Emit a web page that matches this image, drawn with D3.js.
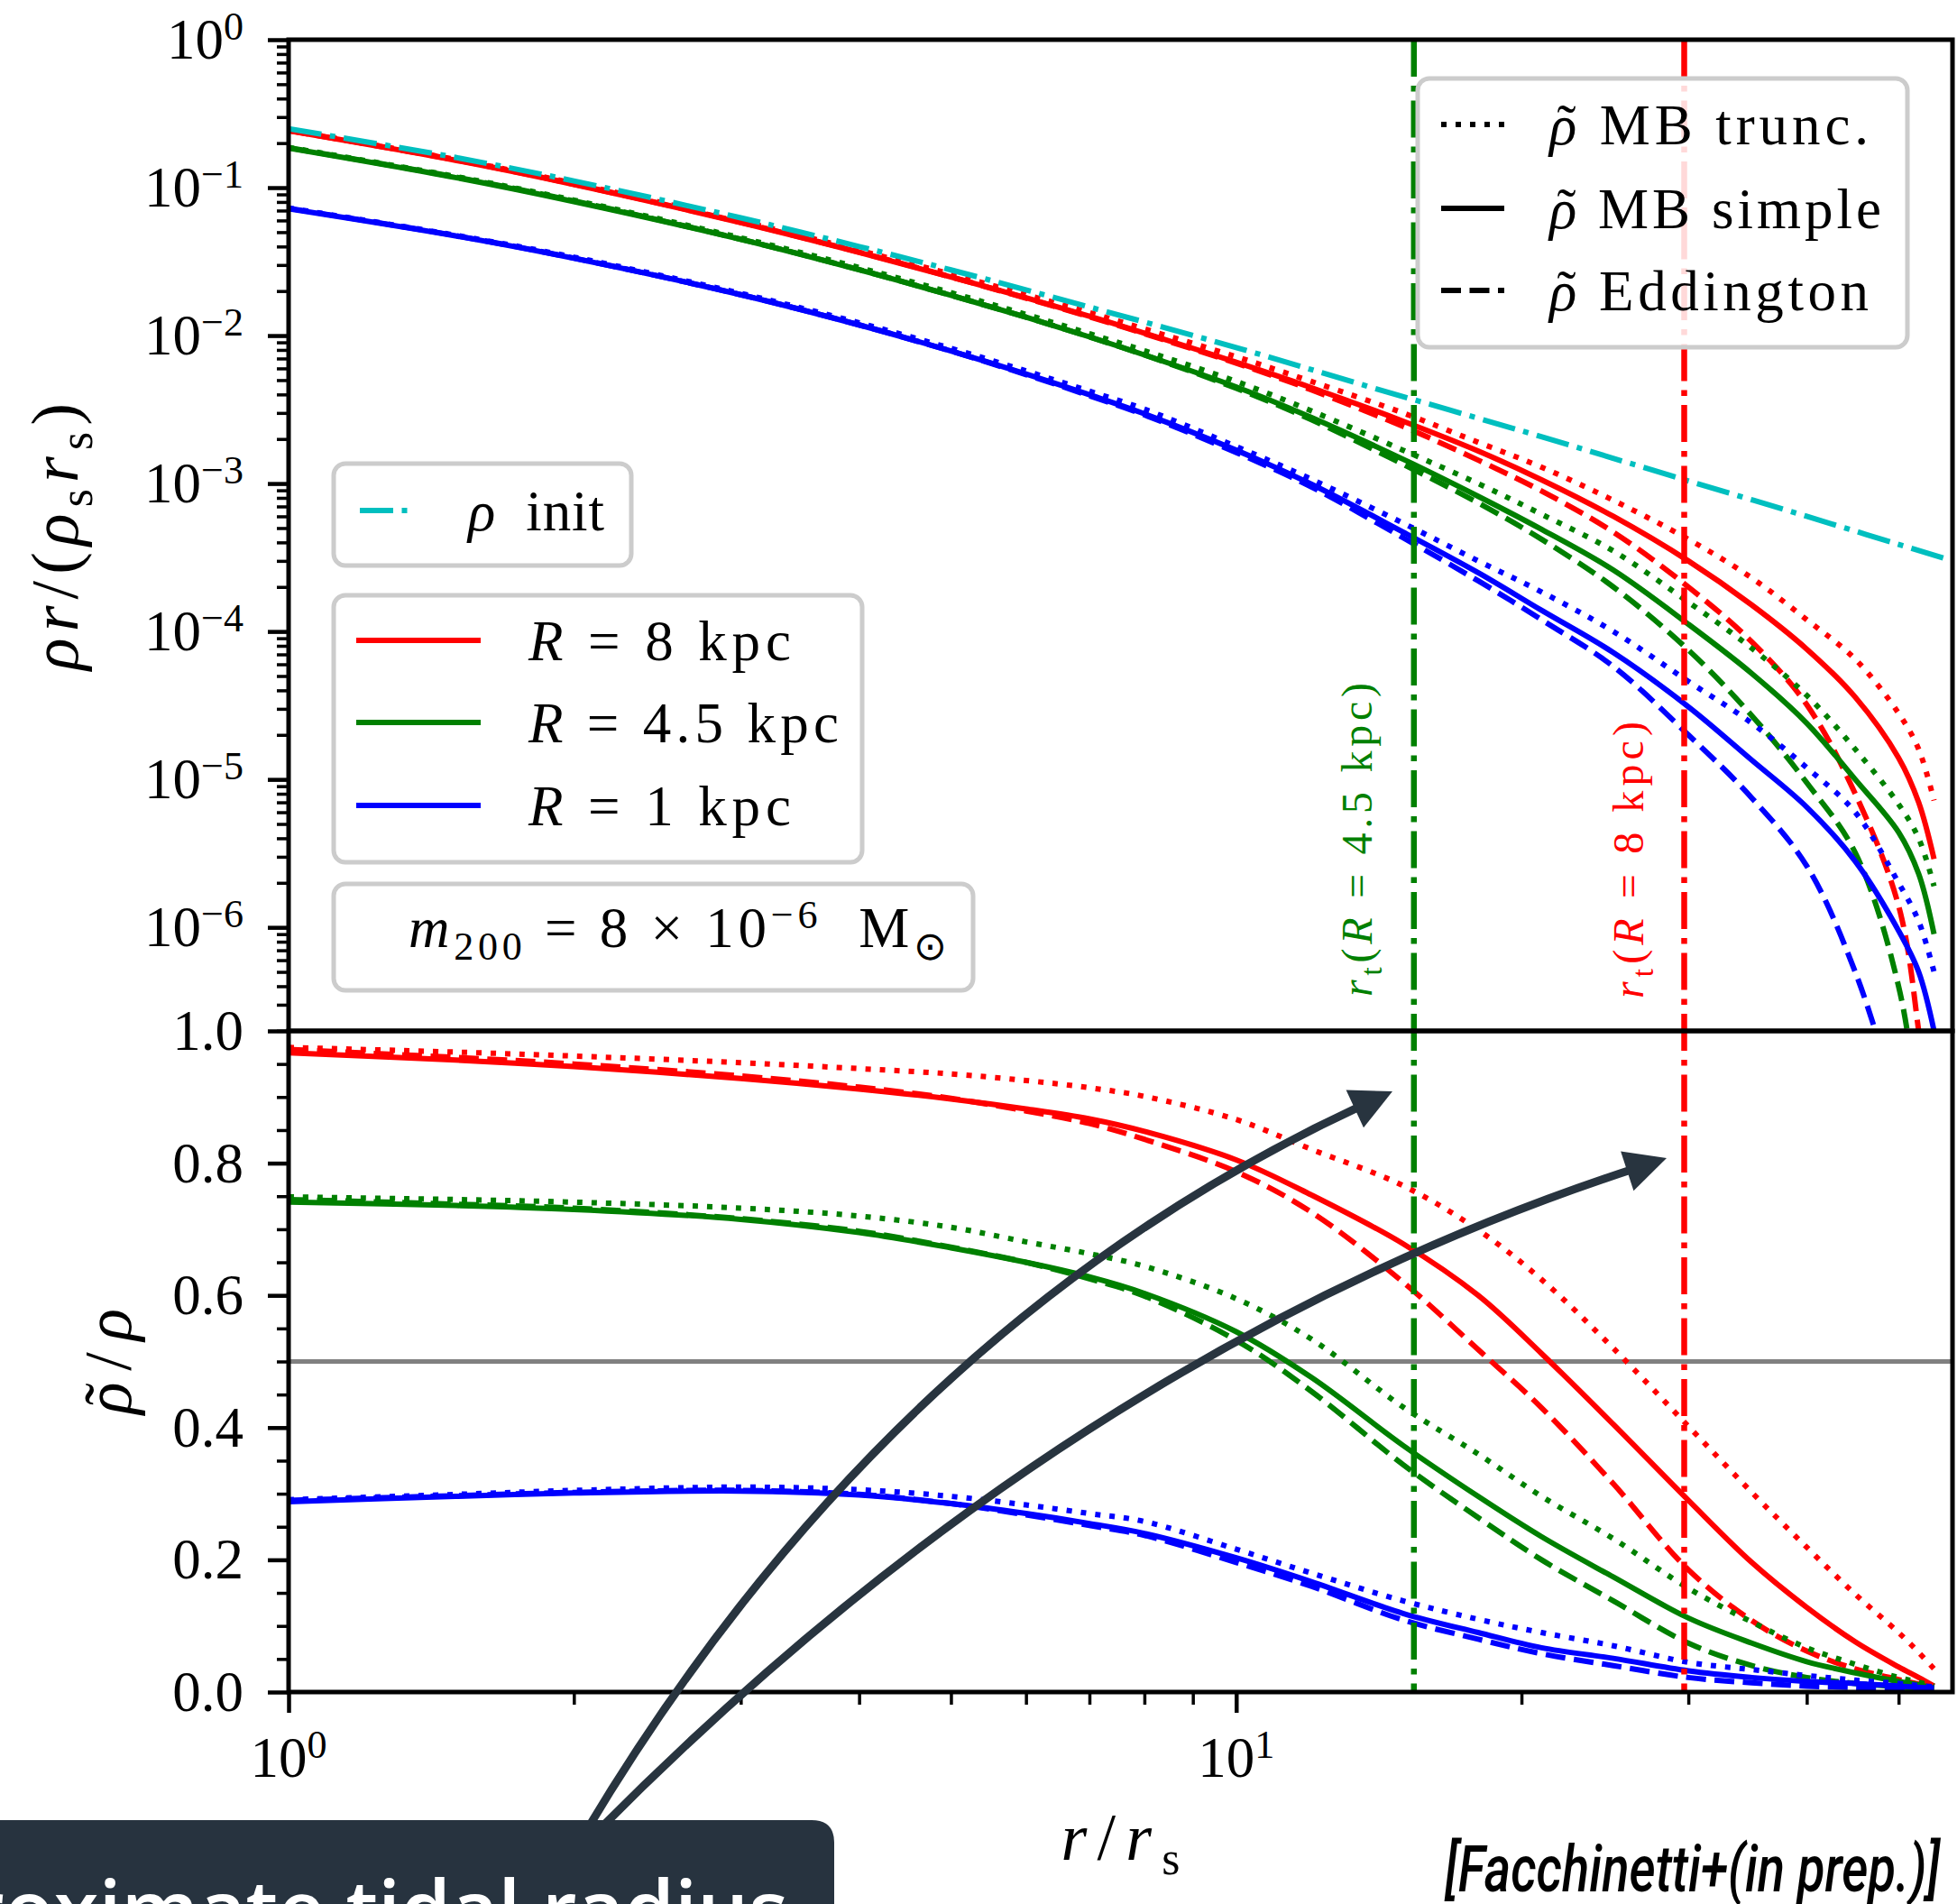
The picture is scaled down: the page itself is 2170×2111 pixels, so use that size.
<!DOCTYPE html>
<html>
<head>
<meta charset="utf-8">
<script src="https://cdn.jsdelivr.net/npm/d3@7"></script>
<style>
  body { margin: 0; background: #fff; overflow: hidden; }
  svg { display: block; }
  text { font-family: "Liberation Serif", "Times New Roman", serif; }
</style>
</head>
<body>
<div id="chart"></div>
<script>
// ---- data ----
var radii = [1, 1.5, 2, 3, 4, 5, 6, 7, 8, 10, 12, 15, 18, 21, 25, 30, 35, 40, 45, 50, 52.5, 54.5];

var initRadii = [1, 1.5, 2, 3, 4, 5, 7, 10, 14, 20, 28, 40, 57];
var initDensity = [0.25, 0.16, 0.111, 0.0625, 0.04, 0.0278, 0.0156, 0.0083, 0.0044, 0.00227, 0.00119, 0.0006, 0.0003];

// top panel: rho r / (rho_s r_s)
var densRedTrunc  = [0.244, 0.155, 0.107, 0.0595, 0.0377, 0.026, 0.0189, 0.0143, 0.0111, 0.0072, 0.0049, 0.003, 0.0019, 0.00129, 0.00077, 0.00042, 0.00023, 0.00012, 0.000065, 0.000028, 0.000016, 0.0000072];
var densRedSimple = [0.242, 0.153, 0.105, 0.058, 0.0365, 0.0249, 0.018, 0.0135, 0.0104, 0.0066, 0.00445, 0.00264, 0.00166, 0.00106, 0.0006, 0.0003, 0.000151, 0.000076, 0.000036, 0.000014, 0.000007, 0.0000029];
var densRedEdd    = [0.243, 0.154, 0.1055, 0.0583, 0.0366, 0.0249, 0.0179, 0.0134, 0.0103, 0.0065, 0.0043, 0.00243, 0.00144, 0.00089, 0.00047, 0.0002, 0.000085, 0.000032, 0.000008, 0.0000014, 0.0000002, 0.00000002];
var densGreenTrunc  = [0.187, 0.119, 0.0823, 0.0458, 0.0288, 0.0195, 0.0139, 0.0103, 0.0079, 0.0049, 0.0031, 0.00168, 0.001, 0.00062, 0.00035, 0.000158, 0.000077, 0.000037, 0.000016, 0.0000068, 0.000004, 0.0000019];
var densGreenSimple = [0.185, 0.117, 0.0805, 0.0447, 0.0278, 0.0187, 0.0133, 0.0098, 0.0074, 0.0045, 0.0028, 0.00146, 0.00082, 0.00049, 0.00026, 0.000112, 0.000052, 0.000024, 0.00001, 0.0000044, 0.0000023, 0.0000009];
var densGreenEdd    = [0.186, 0.118, 0.0813, 0.0448, 0.0279, 0.0187, 0.0133, 0.0098, 0.0074, 0.0044, 0.0027, 0.00135, 0.00074, 0.00042, 0.0002, 0.000075, 0.000027, 0.0000095, 0.0000032, 0.0000004, 0.00000005, 0.000000005];
var densBlueTrunc  = [0.0728, 0.0477, 0.0339, 0.0193, 0.0122, 0.0082, 0.00577, 0.00421, 0.00318, 0.00178, 0.00107, 0.00054, 0.0003, 0.000185, 0.0001, 0.000046, 0.000024, 0.000012, 0.000006, 0.000002, 0.0000011, 0.0000005];
var densBlueSimple = [0.072, 0.0472, 0.0333, 0.0189, 0.0118, 0.00786, 0.0055, 0.00398, 0.00296, 0.00168, 0.00099, 0.00047, 0.00025, 0.000139, 0.000072, 0.000031, 0.0000135, 0.0000065, 0.0000028, 0.00000095, 0.0000005, 0.0000002];
var densBlueEdd    = [0.0725, 0.0474, 0.0334, 0.0189, 0.0118, 0.00786, 0.00545, 0.00392, 0.00291, 0.00162, 0.00095, 0.00043, 0.00022, 0.00012, 0.000058, 0.00002, 0.0000075, 0.0000026, 0.0000005, 0.00000006, 0.00000002, 0.000000005];

// bottom panel: rho~ / rho
var ratioRedTrunc  = [0.975, 0.968, 0.962, 0.952, 0.943, 0.935, 0.925, 0.914, 0.901, 0.866, 0.821, 0.766, 0.699, 0.624, 0.52, 0.402, 0.302, 0.219, 0.148, 0.09, 0.06, 0.035];
var ratioRedSimple = [0.967, 0.956, 0.946, 0.928, 0.912, 0.897, 0.882, 0.867, 0.848, 0.805, 0.752, 0.678, 0.6, 0.512, 0.405, 0.29, 0.196, 0.128, 0.076, 0.038, 0.022, 0.009];
var ratioRedEdd    = [0.972, 0.96, 0.95, 0.932, 0.915, 0.898, 0.879, 0.86, 0.836, 0.787, 0.726, 0.62, 0.518, 0.43, 0.315, 0.185, 0.108, 0.062, 0.035, 0.019, 0.012, 0.006];
var ratioGreenTrunc  = [0.749, 0.745, 0.741, 0.732, 0.72, 0.703, 0.681, 0.663, 0.644, 0.595, 0.534, 0.431, 0.36, 0.296, 0.232, 0.157, 0.106, 0.067, 0.042, 0.022, 0.015, 0.009];
var ratioGreenSimple = [0.741, 0.736, 0.73, 0.715, 0.695, 0.672, 0.65, 0.628, 0.603, 0.545, 0.476, 0.373, 0.296, 0.235, 0.174, 0.112, 0.074, 0.046, 0.029, 0.016, 0.011, 0.006];
var ratioGreenEdd    = [0.745, 0.738, 0.732, 0.716, 0.697, 0.673, 0.65, 0.625, 0.599, 0.532, 0.455, 0.344, 0.264, 0.2, 0.138, 0.074, 0.04, 0.022, 0.013, 0.008, 0.005, 0.003];
var ratioBlueTrunc  = [0.291, 0.299, 0.305, 0.31, 0.306, 0.296, 0.283, 0.27, 0.258, 0.216, 0.18, 0.138, 0.11, 0.09, 0.07, 0.045, 0.034, 0.025, 0.018, 0.013, 0.01, 0.008];
var ratioBlueSimple = [0.288, 0.296, 0.301, 0.304, 0.298, 0.285, 0.27, 0.255, 0.24, 0.203, 0.167, 0.119, 0.09, 0.067, 0.051, 0.032, 0.022, 0.016, 0.013, 0.009, 0.007, 0.006];
var ratioBlueEdd    = [0.29, 0.297, 0.302, 0.305, 0.299, 0.285, 0.268, 0.252, 0.237, 0.196, 0.16, 0.109, 0.08, 0.058, 0.04, 0.022, 0.014, 0.009, 0.007, 0.005, 0.004, 0.003];

var tidalRadii = [15.4, 29.7];          // r_t for R = 4.5 kpc, R = 8 kpc
var halfLevel = 0.5;

var yTopTicks = [1, 1e-1, 1e-2, 1e-3, 1e-4, 1e-5, 1e-6];
var yTopExponents = ["0", "\u22121", "\u22122", "\u22123", "\u22124", "\u22125", "\u22126"];
var yBotTicks = [0, 0.2, 0.4, 0.6, 0.8, 1.0];
var yBotLabels = ["0.0", "0.2", "0.4", "0.6", "0.8", "1.0"];
var xTicks = [1, 10];
var xExponents = ["0", "1"];

// ---- layout ----
var W = 2170, H = 2111,
    plotLeft = 320, plotRight = 2165,
    plotTop = 44, plotMid = 1143, plotBottom = 1876,
    lw = 6,
    red = "#ff0000", green = "#008000", blue = "#0000ff", cyan = "#00bfbf",
    dark = "#28343f";

var dashes = {
  trunc: "6,10",
  simple: null,
  edd: "22,9.5",
  dashdot: "37,9.5,6,9.5",
  vline: "41,10,6.5,10"
};

var series = [
  { color: red,   style: "trunc",  dens: densRedTrunc,    ratio: ratioRedTrunc },
  { color: red,   style: "simple", dens: densRedSimple,   ratio: ratioRedSimple },
  { color: red,   style: "edd",    dens: densRedEdd,      ratio: ratioRedEdd },
  { color: green, style: "trunc",  dens: densGreenTrunc,  ratio: ratioGreenTrunc },
  { color: green, style: "simple", dens: densGreenSimple, ratio: ratioGreenSimple },
  { color: green, style: "edd",    dens: densGreenEdd,    ratio: ratioGreenEdd },
  { color: blue,  style: "trunc",  dens: densBlueTrunc,   ratio: ratioBlueTrunc },
  { color: blue,  style: "simple", dens: densBlueSimple,  ratio: ratioBlueSimple },
  { color: blue,  style: "edd",    dens: densBlueEdd,     ratio: ratioBlueEdd }
];

var svg = d3.select("#chart").append("svg")
  .attr("width", W)
  .attr("height", H);

var x = d3.scaleLog().domain([1, 57]).range([plotLeft, plotRight]);
var yTop = d3.scaleLog().domain([Math.pow(10, -6.7), 1]).range([plotMid, plotTop]);
var yBot = d3.scaleLinear().domain([0, 1]).range([plotBottom, plotMid]);

// math-ish text with italic / sub / sup pieces; third entry "tilde" puts ~ over the glyph
function mathText(parent, px, py, parts, opt) {
  opt = opt || {};
  var size = opt.size || 63;
  var t = parent.append("text")
    .attr("x", px)
    .attr("y", py)
    .attr("font-size", size)
    .attr("text-anchor", opt.anchor || "start")
    .attr("fill", opt.color || "#000")
    .style("white-space", "pre");
  if (opt.transform) t.attr("transform", opt.transform);
  if (opt.length) t.attr("textLength", opt.length);
  var shift = 0, idx = 0, tildes = [];
  parts.forEach(function(p) {
    var style = p[1] || "r", target = 0, fs = size;
    if (style === "sub") { target = 0.22 * size; fs = 0.7 * size; }
    if (style === "sup") { target = -0.34 * size; fs = 0.7 * size; }
    t.append("tspan")
      .attr("font-size", fs)
      .attr("font-style", style === "i" ? "italic" : "normal")
      .attr("dy", target - shift)
      .text(p[0]);
    if (p[2] === "tilde") tildes.push(idx);
    idx += p[0].length;
    shift = target;
  });
  tildes.forEach(function(i) {
    var ext = t.node().getExtentOfChar(i);
    var tl = parent.append("text")
      .attr("x", ext.x + ext.width / 2 + 0.06 * size)
      .attr("y", py)
      .attr("font-size", size)
      .attr("text-anchor", "middle")
      .attr("fill", opt.color || "#000")
      .text("\u02dc");
    if (opt.transform) tl.attr("transform", opt.transform);
  });
  return t;
}

// clip paths
var defs = svg.append("defs");
defs.append("clipPath").attr("id", "clipTop")
  .append("rect").attr("x", plotLeft).attr("y", plotTop).attr("width", plotRight - plotLeft).attr("height", plotMid - plotTop);
defs.append("clipPath").attr("id", "clipBot")
  .append("rect").attr("x", plotLeft).attr("y", plotMid).attr("width", plotRight - plotLeft).attr("height", plotBottom - plotMid);

var topG = svg.append("g").attr("clip-path", "url(#clipTop)");
var botG = svg.append("g").attr("clip-path", "url(#clipBot)");

// half level
botG.append("line")
  .attr("x1", plotLeft).attr("x2", plotRight)
  .attr("y1", yBot(halfLevel)).attr("y2", yBot(halfLevel))
  .attr("stroke", "#808080")
  .attr("stroke-width", 5);

var lineTop = d3.line()
  .x(function(d) { return x(d[0]); })
  .y(function(d) { return yTop(d[1]); })
  .curve(d3.curveCatmullRom.alpha(0.5));
var lineBot = d3.line()
  .x(function(d) { return x(d[0]); })
  .y(function(d) { return yBot(d[1]); })
  .curve(d3.curveCatmullRom.alpha(0.5));

series.forEach(function(s) {
  topG.append("path")
    .datum(d3.zip(radii, s.dens))
    .attr("d", lineTop)
    .attr("fill", "none")
    .attr("stroke", s.color)
    .attr("stroke-width", lw)
    .attr("stroke-dasharray", dashes[s.style]);
  botG.append("path")
    .datum(d3.zip(radii, s.ratio))
    .attr("d", lineBot)
    .attr("fill", "none")
    .attr("stroke", s.color)
    .attr("stroke-width", lw)
    .attr("stroke-dasharray", dashes[s.style]);
});

// initial profile
topG.append("path")
  .datum(d3.zip(initRadii, initDensity))
  .attr("d", lineTop)
  .attr("fill", "none")
  .attr("stroke", cyan)
  .attr("stroke-width", lw)
  .attr("stroke-dasharray", dashes.dashdot);

// tidal radius lines
var vColors = [green, red];
tidalRadii.forEach(function(r, i) {
  svg.append("line")
    .attr("x1", x(r)).attr("x2", x(r))
    .attr("y1", plotTop).attr("y2", plotBottom)
    .attr("stroke", vColors[i])
    .attr("stroke-width", 6.5)
    .attr("stroke-dasharray", dashes.vline);
});
mathText(svg, 0, 0, [["r", "i"], ["t", "sub"], ["("], ["R", "i"], [" = 4.5 kpc)"]],
  { size: 48, color: green, length: 348, transform: "translate(1521,1105) rotate(-90)" });
mathText(svg, 0, 0, [["r", "i"], ["t", "sub"], ["("], ["R", "i"], [" = 8 kpc)"]],
  { size: 48, color: red, length: 307, transform: "translate(1822,1107) rotate(-90)" });

// ---- axes ----
function styleAxis(g, width) {
  g.select(".domain").remove();
  g.selectAll(".tick line").attr("stroke", "#000").attr("stroke-width", width);
}

var yTopMinor = [];
for (var e = -7; e < 0; e++) {
  for (var m = 2; m < 10; m++) {
    var v = m * Math.pow(10, e);
    if (v >= yTop.domain()[0]) yTopMinor.push(v);
  }
}
svg.append("g").attr("transform", "translate(" + plotLeft + ",0)")
  .call(d3.axisLeft(yTop).tickValues(yTopMinor).tickSize(13).tickFormat(""))
  .call(styleAxis, 3.5);
svg.append("g").attr("transform", "translate(" + plotLeft + ",0)")
  .call(d3.axisLeft(yTop).tickValues(yTopTicks).tickSize(23).tickFormat(""))
  .call(styleAxis, 4.5);
yTopTicks.forEach(function(t, i) {
  mathText(svg, 270, yTop(t) + 21, [["10"], [yTopExponents[i], "sup"]], { anchor: "end" });
});

var yBotMinor = d3.range(0, 1.001, 0.05).filter(function(d) {
  return Math.abs(d * 5 - Math.round(d * 5)) > 1e-6;
});
svg.append("g").attr("transform", "translate(" + plotLeft + ",0)")
  .call(d3.axisLeft(yBot).tickValues(yBotMinor).tickSize(13).tickFormat(""))
  .call(styleAxis, 3.5);
svg.append("g").attr("transform", "translate(" + plotLeft + ",0)")
  .call(d3.axisLeft(yBot).tickValues(yBotTicks).tickSize(23).tickFormat(""))
  .call(styleAxis, 4.5);
yBotTicks.forEach(function(t, i) {
  mathText(svg, 270, yBot(t) + 21, [[yBotLabels[i]]], { anchor: "end" });
});

var xMinor = [2, 3, 4, 5, 6, 7, 8, 9, 20, 30, 40, 50];
svg.append("g").attr("transform", "translate(0," + plotBottom + ")")
  .call(d3.axisBottom(x).tickValues(xMinor).tickSize(14).tickFormat(""))
  .call(styleAxis, 3.5);
svg.append("g").attr("transform", "translate(0," + plotBottom + ")")
  .call(d3.axisBottom(x).tickValues(xTicks).tickSize(23).tickFormat(""))
  .call(styleAxis, 4.5);
xTicks.forEach(function(t, i) {
  mathText(svg, x(t), 1970, [["10"], [xExponents[i], "sup"]], { anchor: "middle" });
});

// frames
svg.append("rect").attr("x", plotLeft).attr("y", plotTop).attr("width", plotRight - plotLeft).attr("height", plotMid - plotTop)
  .attr("fill", "none").attr("stroke", "#000").attr("stroke-width", 5);
svg.append("rect").attr("x", plotLeft).attr("y", plotMid).attr("width", plotRight - plotLeft).attr("height", plotBottom - plotMid)
  .attr("fill", "none").attr("stroke", "#000").attr("stroke-width", 5);

// axis labels
mathText(svg, 0, 0, [["\u03c1", "i"], ["r", "i"], ["/"], ["("], ["\u03c1", "i"], ["s", "sub"], ["r", "i"], ["s", "sub"], [")"]],
  { size: 74, anchor: "middle", length: 296, transform: "translate(86,595) rotate(-90)" });
mathText(svg, -58, 0, [["\u03c1", "i", "tilde"], ["/"], ["\u03c1", "i"]],
  { size: 74, length: 117, transform: "translate(145,1510) rotate(-90)" });
mathText(svg, (plotLeft + plotRight) / 2, 2062, [["r", "i"], ["/"], ["r", "i"], ["s", "sub"]],
  { size: 74, anchor: "middle", length: 132 });

// ---- legends ----
function legendBox(x0, y0, x1, y1) {
  svg.append("rect")
    .attr("x", x0).attr("y", y0)
    .attr("width", x1 - x0).attr("height", y1 - y0)
    .attr("rx", 13).attr("ry", 13)
    .attr("fill", "#fff").attr("fill-opacity", 0.85)
    .attr("stroke", "#cccccc").attr("stroke-width", 5);
}
function handle(x0, x1, yy, color, dash) {
  svg.append("line")
    .attr("x1", x0).attr("x2", x1).attr("y1", yy).attr("y2", yy)
    .attr("stroke", color).attr("stroke-width", lw)
    .attr("stroke-dasharray", dash);
}

// method legend
legendBox(1572, 87, 2115, 385);
var methodLabels = [" MB trunc.", " MB simple", " Eddington"];
var methodStyles = ["trunc", "simple", "edd"];
var methodLengths = [354, 368, 354];
[138, 231, 322].forEach(function(yy, i) {
  handle(1598, 1668, yy, "#000", dashes[methodStyles[i]]);
  mathText(svg, 1718, yy + 22, [["\u03c1", "i", "tilde"], [methodLabels[i]]], { length: methodLengths[i] });
});

// init legend
legendBox(370, 514, 700, 627);
handle(399, 458, 566, cyan, dashes.dashdot);
mathText(svg, 519, 588, [["\u03c1", "i"], ["  init"]], { length: 151 });

// R legend
legendBox(370, 660, 956, 956);
var rLabels = [" = 8 kpc", " = 4.5 kpc", " = 1 kpc"];
var rColors = [red, green, blue];
var rLengths = [291, 344, 291];
[710, 801, 893].forEach(function(yy, i) {
  handle(395, 533, yy, rColors[i], null);
  mathText(svg, 586, yy + 22, [["R", "i"], [rLabels[i]]], { length: rLengths[i] });
});

// mass legend
legendBox(370, 980, 1079, 1098);
mathText(svg, 453, 1050, [["m", "i"], ["200", "sub"], [" = 8 \u00d7 10"], ["\u22126", "sup"], ["  M"], ["\u2299", "sub"]], { length: 597 });

// ---- annotation overlay ----
function arrow(s, c, e) {
  var dx = e[0] - c[0], dy = e[1] - c[1], n = Math.sqrt(dx * dx + dy * dy),
      ux = dx / n, uy = dy / n, len = 46, hw = 23,
      bx = e[0] - ux * len, by = e[1] - uy * len;
  svg.append("path")
    .attr("d", "M" + s[0] + "," + s[1] + " Q" + c[0] + "," + c[1] + " " + (bx + ux * 6) + "," + (by + uy * 6))
    .attr("fill", "none")
    .attr("stroke", dark)
    .attr("stroke-width", 9);
  svg.append("path")
    .attr("d", "M" + e[0] + "," + e[1] +
      " L" + (bx - uy * hw) + "," + (by + ux * hw) +
      " L" + (bx + uy * hw) + "," + (by - ux * hw) + " Z")
    .attr("fill", dark);
}
arrow([650, 2030], [985, 1470], [1544, 1210]);
arrow([663, 2030], [1188, 1500], [1848, 1284]);

svg.append("path")
  .attr("d", "M-30,2018 H900 Q925,2018 925,2043 V2160 H-30 Z")
  .attr("fill", "#27333f");
svg.append("text")
  .attr("x", 874).attr("y", 2150)
  .attr("text-anchor", "end")
  .attr("fill", "#fff")
  .attr("font-size", 90)
  .attr("font-weight", 600)
  .style("font-family", "'Open Sans', 'Noto Sans', sans-serif")
  .text("Approximate tidal radius");

svg.append("text")
  .attr("x", 1602).attr("y", 2097)
  .attr("fill", "#000")
  .attr("font-size", 72)
  .attr("font-style", "italic")
  .attr("font-weight", 500)
  .attr("textLength", 549)
  .attr("lengthAdjust", "spacingAndGlyphs")
  .style("font-family", "Roboto, 'Noto Sans', sans-serif")
  .text("[Facchinetti+(in prep.)]");
</script>
</body>
</html>
